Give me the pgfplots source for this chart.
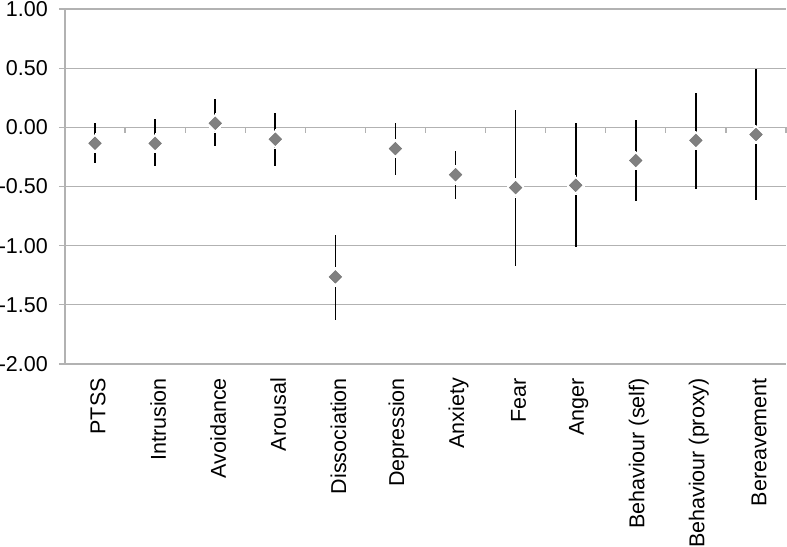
\documentclass[border=0pt]{standalone}
\usepackage{fontspec}
\setmainfont{Liberation Sans}
\usepackage{pgfplots}
\usepackage{pgfplotstable}
\pgfplotsset{compat=1.18}
\definecolor{gridgray}{RGB}{178,178,178}
\definecolor{markgray}{RGB}{128,128,128}
\pgfplotstableread{
x y ep em
1 -0.135 0.175 0.165
2 -0.135 0.205 0.195
3 0.035 0.205 0.190
4 -0.100 0.220 0.225
5 -1.263 0.353 0.367
6 -0.180 0.220 0.220
7 -0.400 0.200 0.206
8 -0.510 0.656 0.660
9 -0.490 0.524 0.520
10 -0.280 0.342 0.340
11 -0.110 0.400 0.410
12 -0.060 0.550 0.555
}\data
\begin{document}
\begin{tikzpicture}
\path[use as bounding box] (-65bp,-183bp) rectangle (722bp,364bp);
\begin{axis}[
  at={(0,0)}, anchor=south west,
  scale only axis, width=721bp, height=355bp,
  xmin=0.5, xmax=12.5, ymin=-2, ymax=1,
  axis x line=bottom, axis y line=left,
  axis line style={-, gridgray, line width=1.2bp},
  ytick={-2,-1.5,-1,-0.5,0,0.5,1},
  yticklabels={-2.00,-1.50,-1.00,-0.50,0.00,0.50,1.00},
  ymajorgrids, grid style={gridgray, line width=1.2bp},
  xtick={1,...,12},
  xticklabels={PTSS,Intrusion,Avoidance,Arousal,Dissociation,Depression,Anxiety,Fear,Anger,Behaviour (self),Behaviour (proxy),Bereavement},
  tick align=outside, major tick length=6bp,
  ytick style={gridgray, line width=1.2bp},
  xtick style={draw=none},
  every tick label/.append style={font=\fontsize{21.5bp}{25bp}\selectfont, text=black},
  xticklabel style={rotate=90, anchor=east, inner sep=0pt, xshift=-8bp, yshift=-3bp},
  yticklabel style={anchor=east, inner sep=0pt, xshift=-11bp},
  clip=false,
]
\addplot[draw=none, mark=none, forget plot,
  error bars/.cd, y dir=both, y explicit, error mark=none,
  error bar style={draw=black, solid, line width=1.6bp}]
  table[x=x, y=y, y error plus=ep, y error minus=em]{\data};
\addplot[white, only marks, mark=square*, mark size=6.6bp,
  mark options={rotate=45, fill=white, draw=white, line width=0pt}]
  table[x=x, y=y]{\data};
\addplot[markgray, only marks, mark=square*, mark size=4.5bp,
  mark options={rotate=45, fill=markgray, draw=markgray!90!black, line width=0.4bp}]
  table[x=x, y=y]{\data};
\pgfplotsinvokeforeach{1.5,2.5,3.5,4.5,5.5,6.5,7.5,8.5,9.5,10.5,11.5,12.5}{
  \draw[gridgray, line width=1.2bp] (axis cs:#1,0) -- ([yshift=-6bp]axis cs:#1,0);
}
\end{axis}
\end{tikzpicture}
\end{document}
